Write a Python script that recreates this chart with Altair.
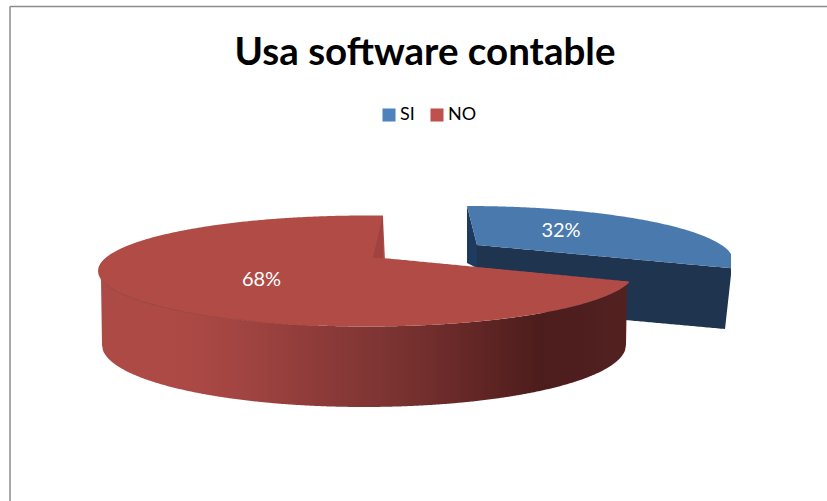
import math
import altair as alt
import numpy as np
import pandas as pd

# Survey answers
CATEGORIES = ["SI", "NO"]
SHARES = [32, 68]
LEGEND_COLORS = ["#4f81bd", "#c0504d"]
TITLE = "Usa software contable"
FONT = "Lato"

W, H = 827, 501

# Oblique view of the disc: top and bottom rims are ellipses
TOP = dict(cx=366.5, cy=271.0, a=268.5, b=55.5)
BOTTOM = dict(cx=364.0, cy=345.0, a=262.0, b=62.0)
EXPLODE = (100.0, -9.5)
# Perspective squeezes the far slice when seen from this tilt
FORESHORTEN = 0.842
START_DEG = -90.0
SI_SWEEP = SHARES[0] * 3.6 * FORESHORTEN


def rim(e, deg):
    t = math.radians(deg)
    return e["cx"] + e["a"] * math.cos(t), e["cy"] + e["b"] * math.sin(t)


def rim_lower(e, x):
    u = np.clip((np.asarray(x, float) - e["cx"]) / e["a"], -1, 1)
    return e["cy"] + e["b"] * np.sqrt(1 - u * u)


def rim_upper(e, x):
    u = np.clip((np.asarray(x, float) - e["cx"]) / e["a"], -1, 1)
    return e["cy"] - e["b"] * np.sqrt(1 - u * u)


def seg(p, q, x):
    return p[1] + (q[1] - p[1]) * (np.asarray(x, float) - p[0]) / (q[0] - p[0])


x_scale = alt.Scale(domain=[0, W], range=[0, W], nice=False, zero=False)
y_scale = alt.Scale(domain=[H, 0], range=[H, 0], nice=False, zero=False)


def band(x, y, y2, fill, **kw):
    frame = pd.DataFrame({"px": np.asarray(x, float), "py": y, "py2": y2})
    return alt.Chart(frame).mark_area(fill=fill, interpolate="linear", **kw).encode(
        x=alt.X("px:Q", scale=x_scale, axis=None),
        y=alt.Y("py:Q", scale=y_scale, axis=None),
        y2="py2:Q",
    )


def grad(x1, x2, stops):
    # horizontal gradient across the mark's bounding box
    return alt.Gradient(
        gradient="linear", x1=x1, x2=x2, y1=0, y2=0,
        stops=[alt.GradientStop(offset=o, color=c) for o, c in stops],
    )


# ---- NO slice ----
no_start = START_DEG + SI_SWEEP + 4.0   # right-hand cut edge
no_right = rim(TOP, no_start)
no_left_x = TOP["cx"] - TOP["a"]
no_top = rim(TOP, -86.5)
hub = (no_top[0], 258.0)
hub_low = (hub[0] - 10.0, 258.0)

xs_a = np.concatenate([
    np.arange(no_left_x, no_left_x + 6.0, 0.5),
    np.arange(no_left_x + 6.0, hub_low[0] + 0.5, 2.0),
])
xs_b = np.arange(hub_low[0], hub[0] + 0.01, 1.0)
xs_c = np.arange(hub[0], no_right[0] + 0.01, 2.0)
no_x = np.concatenate([xs_a, xs_b, xs_c])
no_upper = np.where(
    no_x <= hub[0], rim_upper(TOP, no_x), seg(hub, no_right, no_x)
)
no_lower = rim_lower(TOP, no_x)

# Side wall under the front rim
wall_x = np.arange(no_left_x, no_right[0] + 0.01, 1.0)
wall_top = rim_lower(TOP, wall_x)
bottom_left = BOTTOM["cx"] - BOTTOM["a"]
bottom_right = BOTTOM["cx"] + BOTTOM["a"]
wall_bot = np.where(
    (wall_x >= bottom_left) & (wall_x <= bottom_right),
    rim_lower(BOTTOM, wall_x),
    wall_top,
)
wall_bot = np.maximum(wall_bot, wall_top)

no_wall = band(
    wall_x, wall_top, wall_bot,
    grad(0, 1, [
        (0.0, "#ac4a45"), (0.14, "#ae4a46"), (0.26, "#a34542"),
        (0.40, "#8f3c3a"), (0.56, "#7a3331"), (0.70, "#642726"),
        (0.83, "#4c1d1c"), (0.93, "#4f1f1f"), (1.0, "#542120"),
    ]),
)
no_face = band(no_x, no_upper, no_lower, "#b04b46")
# Inner cut wall visible through the gap
notch_x = np.linspace(hub_low[0], hub[0], 6)
no_notch = band(notch_x, seg(hub_low, no_top, notch_x), np.full(6, 258.0), "#a04340")
# Shaded seam between top face and wall
seam_x = np.arange(no_left_x + 3.0, 320.0, 2.0)
seam = pd.DataFrame({"px": seam_x, "py": rim_lower(TOP, seam_x)})
no_seam = alt.Chart(seam).mark_line(
    strokeWidth=1.0,
    color=grad(0, 1, [(0.0, "#94403d"), (0.6, "#9c423f"), (1.0, "#b04b46")]),
).encode(
    x=alt.X("px:Q", scale=x_scale, axis=None),
    y=alt.Y("py:Q", scale=y_scale, axis=None),
)

# ---- SI slice, pulled out from the disc ----
SI_TOP = dict(TOP, cx=TOP["cx"] + EXPLODE[0], cy=TOP["cy"] + EXPLODE[1], a=267.0)
si_far = (SI_TOP["cx"] + 0.5, SI_TOP["cy"] - SI_TOP["b"])
si_near = rim(SI_TOP, START_DEG + SI_SWEEP)
si_tip = (477.0, 245.0)

si_x = np.concatenate([
    np.arange(si_far[0], si_tip[0], 1.0),
    np.arange(si_tip[0], si_near[0] + 0.01, 2.0),
])
si_upper = rim_upper(SI_TOP, si_x)
si_lower = np.where(si_x < si_tip[0], seg(si_far, si_tip, si_x), seg(si_tip, si_near, si_x))
si_face = band(si_x, si_upper, si_lower, "#4a79ae")

# Cut walls below the face
drop = (725.0, 329.0)
wall_far_x = np.arange(si_far[0], si_tip[0] + 0.01, 1.0)
si_wall_left = band(
    wall_far_x,
    seg(si_far, si_tip, wall_far_x),
    np.linspace(263.0, 268.0, len(wall_far_x)),
    "#1f3a5f",
)
wall_b_x = np.arange(si_tip[0], si_near[0] + 0.01, 2.0)
si_wall_back = band(
    wall_b_x,
    seg(si_tip, si_near, wall_b_x),
    np.where(
        wall_b_x <= drop[0],
        seg((625.0, 320.0), drop, wall_b_x),
        seg(drop, (si_near[0], si_near[1] + 2.0), wall_b_x),
    ),
    "#1f344e",
)

# ---- Outer chart frame, running off the canvas at right and bottom ----
frame_data = pd.DataFrame({"px": [10.0], "px2": [float(W)], "py": [6.5], "py2": [float(H)]})
frame_top = alt.Chart(frame_data).mark_rule(color="#8c8c8c", strokeWidth=1.5).encode(
    x=alt.X("px:Q", scale=x_scale, axis=None),
    x2="px2:Q",
    y=alt.Y("py:Q", scale=y_scale, axis=None),
)
frame_left = alt.Chart(frame_data).mark_rule(color="#8c8c8c", strokeWidth=1.5).encode(
    x=alt.X("px:Q", scale=x_scale, axis=None),
    y=alt.Y("py:Q", scale=y_scale, axis=None),
    y2="py2:Q",
)

# ---- Texts ----
title = alt.Chart(pd.DataFrame({"px": [425.0], "py": [65.0], "t": [TITLE]})).mark_text(
    font=FONT, fontSize=38.5, fontWeight="bold", color="#000000", align="center", baseline="alphabetic",
).encode(
    x=alt.X("px:Q", scale=x_scale, axis=None),
    y=alt.Y("py:Q", scale=y_scale, axis=None),
    text="t:N",
)

labels = pd.DataFrame({
    "px": [561.0, 261.5],
    "py": [236.5, 285.5],
    "t": [f"{s}%" for s in SHARES],
})
value_labels = alt.Chart(labels).mark_text(
    font=FONT, fontSize=20, color="#ffffff", align="center", baseline="alphabetic",
).encode(
    x=alt.X("px:Q", scale=x_scale, axis=None),
    y=alt.Y("py:Q", scale=y_scale, axis=None),
    text="t:N",
)

# Legend comes from an invisible layer carrying the category colours
legend_layer = alt.Chart(pd.DataFrame({"cat": CATEGORIES, "px": [0.0, 0.0], "py": [0.0, 0.0]})).mark_square(
    size=0,
).encode(
    x=alt.X("px:Q", scale=x_scale, axis=None),
    y=alt.Y("py:Q", scale=y_scale, axis=None),
    color=alt.Color(
        "cat:N",
        scale=alt.Scale(domain=CATEGORIES, range=LEGEND_COLORS),
        sort=CATEGORIES,
        legend=alt.Legend(
            title=None, orient="none", legendX=380, legendY=106, direction="horizontal",
            symbolType="square", symbolSize=170, symbolStrokeWidth=1, symbolOpacity=1,
            labelFont=FONT, labelFontSize=18, labelColor="#000000", labelOffset=2,
            columnPadding=13,
        ),
    ),
)

chart = alt.layer(
    frame_top, frame_left,
    si_wall_back, si_wall_left, si_face,
    no_wall, no_face, no_seam, no_notch,
    value_labels, title, legend_layer,
).properties(
    width=W, height=H, padding=0,
    autosize=alt.AutoSizeParams(type="none"),
    background="#ffffff",
).configure_view(stroke=None)

chart.save("out.html", embed_options={"renderer": "svg", "actions": False})
